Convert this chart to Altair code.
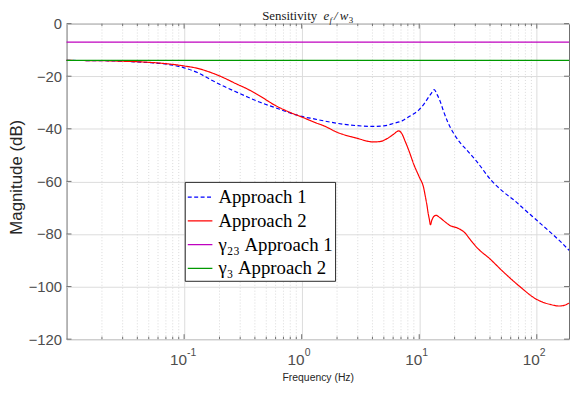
import altair as alt
import pandas as pd

# ---------------- data ----------------
a1_freq = [0.01, 0.02, 0.03, 0.045, 0.062, 0.08, 0.1, 0.13, 0.162, 0.21, 0.275, 0.35,
           0.43, 0.59, 0.8, 1.0, 1.3, 1.55, 2.0, 2.95, 3.9, 5.0, 6.1, 7.2, 8.15, 9.0,
           10.0, 11.0, 12.0, 12.8, 13.4, 14.2, 15.0, 16.1, 17.5, 19.5, 22.0, 25.3,
           30.7, 41.0, 52.0, 64.7, 80.0, 100.0, 130.0, 160.0, 188.0]
a1_db = [-14.0, -14.1, -14.3, -14.7, -15.1, -15.8, -16.8, -18.6, -20.9, -23.5, -25.9, -28.0,
         -29.7, -31.9, -34.0, -35.3, -36.3, -37.0, -37.9, -38.8, -39.1, -38.9, -37.9, -36.9,
         -35.4, -34.3, -32.7, -30.5, -28.0, -26.2, -25.1, -27.0, -29.3, -33.3, -37.5, -41.5,
         -45.0, -48.0, -52.3, -59.6, -64.0, -67.3, -71.0, -74.8, -79.3, -83.0, -86.2]

a2_freq = [0.01, 0.02, 0.03, 0.045, 0.062, 0.08, 0.1, 0.13, 0.162, 0.21, 0.275, 0.35,
           0.43, 0.59, 0.8, 1.0, 1.3, 1.55, 2.0, 2.95, 4.1, 4.7, 5.35, 6.0, 6.7, 7.1,
           7.6, 8.2, 9.0, 10.0, 10.9, 11.3, 11.6, 11.9, 12.2, 12.45, 12.8, 13.4, 13.9,
           15.0, 16.5, 18.3, 20.8, 23.0, 24.5, 27.0, 30.7, 40.0, 51.6, 71.3, 100.0,
           130.0, 155.0, 175.0, 188.0]
a2_db = [-14.0, -14.1, -14.3, -14.6, -15.0, -15.5, -16.1, -17.0, -18.3, -20.3, -22.8, -25.0,
         -27.2, -31.0, -33.8, -35.5, -37.6, -38.9, -41.3, -43.6, -45.0, -44.8, -43.7, -42.2,
         -40.8, -41.8, -44.8, -48.5, -53.6, -58.3, -62.4, -66.0, -68.7, -72.0, -74.5, -76.5,
         -74.8, -73.2, -72.9, -73.8, -75.3, -76.8, -77.6, -78.6, -79.6, -82.0, -85.0, -89.5,
         -94.3, -99.9, -104.9, -106.8, -107.4, -107.0, -106.3]

gamma_freq = [0.01, 188.0]
gamma23_db = [-7.0, -7.0]
gamma3_db = [-14.0, -14.0]

series_names = ["Approach 1", "Approach 2", "γ₂₃ Approach 1", "γ₃ Approach 2"]
series_colors = ["#0000ff", "#ff0000", "#bf00bf", "#009900"]

x_major = [0.1, 1, 10, 100]
x_exps = ["-1", "0", "1", "2"]
x_minor = [2e-2, 3e-2, 4e-2, 5e-2, 6e-2, 7e-2, 8e-2, 9e-2,
           0.2, 0.3, 0.4, 0.5, 0.6, 0.7, 0.8, 0.9,
           2, 3, 4, 5, 6, 7, 8, 9,
           20, 30, 40, 50, 60, 70, 80, 90]
y_ticks = [-120, -100, -80, -60, -40, -20, 0]

# ---------------- tables ----------------
lines = pd.concat([
    pd.DataFrame({"f": a1_freq, "db": a1_db, "series": series_names[0]}),
    pd.DataFrame({"f": a2_freq, "db": a2_db, "series": series_names[1]}),
    pd.DataFrame({"f": gamma_freq, "db": gamma23_db, "series": series_names[2]}),
    pd.DataFrame({"f": gamma_freq, "db": gamma3_db, "series": series_names[3]}),
], ignore_index=True)
major_df = pd.DataFrame({"f": x_major, "base": ["10"] * 4, "exp": x_exps})
minor_df = pd.DataFrame({"f": x_minor})
yt_df = pd.DataFrame({"db": y_ticks})

W, H = 508, 319
xs = alt.Scale(type="log", domain=[0.01, 188], nice=False)
ys = alt.Scale(domain=[-120, 0], nice=False)
AX = "#6e6e6e"
SANS = "Liberation Sans"
SERIF = "Liberation Serif"

x_axis = alt.Axis(
    values=x_major, labels=False, ticks=False, domain=False, grid=True,
    gridColor="#dcdcdc", title="Frequency  (Hz)", titleFont=SANS,
    titleFontSize=10.5, titleFontWeight="normal", titleColor="#262626",
    titleY=42, titleBaseline="alphabetic")
y_axis = alt.Axis(
    values=y_ticks, ticks=False, domain=False, grid=True, gridColor="#dcdcdc",
    labelFont=SANS, labelFontSize=15, labelColor="#4d4d4d", labelPadding=5,
    title="Magnitude (dB)", titleFont=SANS, titleFontSize=17,
    titleFontWeight="normal", titleColor="#262626", titleX=-45.5,
    titleY=154.8, titleAngle=270, titleAlign="center",
    titleBaseline="alphabetic")


def X(field):
    return alt.X(field, type="quantitative", scale=xs, axis=x_axis)


def Y(field):
    return alt.Y(field, type="quantitative", scale=ys, axis=y_axis)


minor_grid = alt.Chart(minor_df).mark_rule(
    color="#dadada", strokeWidth=1, strokeDash=[1, 2]
).encode(x=X("f"))

leg = dict(title=None, orient="none", legendX=119.5, legendY=160)

main = alt.Chart(lines).mark_line(interpolate="monotone").encode(
    x=X("f"),
    y=Y("db"),
    color=alt.Color("series:N", scale=alt.Scale(domain=series_names, range=series_colors),
                    legend=alt.Legend(**leg)),
    strokeDash=alt.StrokeDash("series:N", scale=alt.Scale(
        domain=series_names, range=[[4, 2.5], [1, 0], [1, 0], [1, 0]]),
        legend=alt.Legend(**leg)),
    strokeWidth=alt.StrokeWidth("series:N", scale=alt.Scale(
        domain=series_names, range=[1.2, 1.2, 2.4, 2.4]), legend=alt.Legend(**leg)),
    order=alt.Order("f:Q"),
)

# inward ticks
tb_major = alt.Chart(major_df).mark_rule(color=AX).encode(
    x=X("f"), y=alt.value(H), y2=alt.value(H - 5))
tb_minor = alt.Chart(minor_df).mark_rule(color=AX).encode(
    x=X("f"), y=alt.value(H), y2=alt.value(H - 2.5))
tt_major = alt.Chart(major_df).mark_rule(color=AX).encode(
    x=X("f"), y=alt.value(0), y2=alt.value(5))
tt_minor = alt.Chart(minor_df).mark_rule(color=AX).encode(
    x=X("f"), y=alt.value(0), y2=alt.value(2.5))
tl = alt.Chart(yt_df).mark_rule(color=AX).encode(
    y=Y("db"), x=alt.value(0), x2=alt.value(5))
tr = alt.Chart(yt_df).mark_rule(color=AX).encode(
    y=Y("db"), x=alt.value(W), x2=alt.value(W - 5))

# x tick labels 10^n
lab_base = alt.Chart(major_df).mark_text(
    align="right", baseline="alphabetic", dx=3, font=SANS, fontSize=15.5, color="#4d4d4d"
).encode(x=X("f"), y=alt.value(345), text="base:N")
lab_exp = alt.Chart(major_df).mark_text(
    align="left", baseline="alphabetic", dx=3, font=SANS, fontSize=10.5, color="#4d4d4d"
).encode(x=X("f"), y=alt.value(336), text="exp:N")


def title_piece(txt, x, y, size, style="normal"):
    return alt.Chart(pd.DataFrame({"t": [txt]})).mark_text(
        align="left", baseline="alphabetic", font=SERIF, fontSize=size,
        fontStyle=style, color="#1a1a1a"
    ).encode(x=alt.value(x), y=alt.value(y), text="t:N")


tx0 = 265 - 67.2
ty = -3.6
title = (title_piece("Sensitivity", tx0, ty, 13)
         + title_piece("e", tx0 + 62, ty, 13, "italic")
         + title_piece("f", tx0 + 68, ty + 2.5, 9, "italic")
         + title_piece("/", tx0 + 72.5, ty, 13, "italic")
         + title_piece("w", tx0 + 78.5, ty, 13, "italic")
         + title_piece("3", tx0 + 87.5, ty + 2.5, 9))

chart = alt.layer(
    minor_grid, main, tb_major, tb_minor, tt_major, tt_minor, tl, tr,
    lab_base, lab_exp, title
).properties(
    width=W, height=H,
    autosize=alt.AutoSizeParams(type="none"),
    padding={"left": 59.2, "top": 13.7, "right": 1, "bottom": 50},
).configure_view(
    stroke=AX, strokeWidth=1
).configure_legend(
    fillColor="white", strokeColor="#262626", padding=2, labelFont=SERIF,
    labelFontSize=19, labelColor="black", symbolType="stroke", symbolSize=620,
    labelOffset=5, rowPadding=0, cornerRadius=0, labelLimit=400
)

chart.save("out.html", embed_options={"renderer": "svg", "actions": False})
